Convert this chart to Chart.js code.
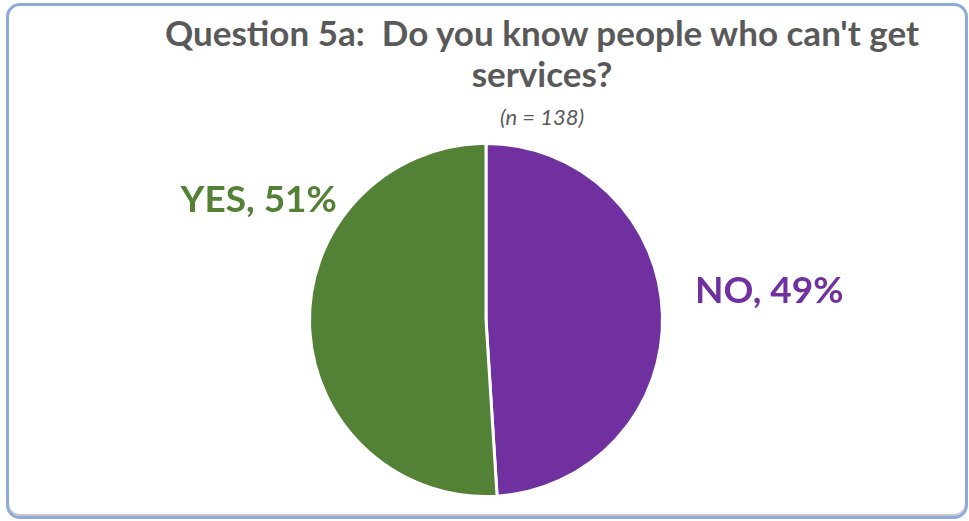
<!DOCTYPE html>
<html>
<head>
<meta charset="utf-8">
<script src="https://cdn.jsdelivr.net/npm/chart.js@4/dist/chart.umd.min.js"></script>
<style>
  html, body { margin: 0; padding: 0; background: #fff; }
  #wrap { position: relative; width: 969px; height: 521px; overflow: hidden; }
  #frame {
    position: absolute; left: 6px; top: 3px; width: 962px; height: 516px;
    box-sizing: border-box; border: 3px solid #8eaadb; border-radius: 14px;
    box-shadow: inset 0 -2px 1px #c4c4c4;
  }
  #title {
    position: absolute; left: 115px; width: 854px; top: 12px;
    text-align: center; font: bold 35px Lato, sans-serif; line-height: 41px;
    color: #595959;
  }
  #sub {
    position: absolute; left: 115px; width: 854px; top: 104px;
    text-align: center; font: italic 22px Lato, sans-serif; line-height: 26px;
    color: #595959;
  }
  canvas { position: absolute; left: 0; top: 0; }
</style>
</head>
<body>
<div id="wrap">
  <div id="frame"></div>
  <div id="title">Question 5a:&nbsp; Do you know people who can't get<br>services?</div>
  <div id="sub">(n = 138)</div>
  <canvas id="pie" width="969" height="521"></canvas>
</div>
<script>
  const answers = ['NO', 'YES'];
  const shares  = [49, 51];
  const colours = ['#7030a0', '#538135'];

  // where each slice label sits, relative to the pie centre in radii
  const labelSpots = [ {dx: 1.605, dy: -0.096}, {dx: -1.288, dy: -0.61} ];

  const sliceLabels = {
    id: 'sliceLabels',
    afterDatasetsDraw(chart){
      const ctx = chart.ctx;
      const arcs = chart.getDatasetMeta(0).data;
      ctx.save();
      ctx.font = 'bold 37px Lato, sans-serif';
      ctx.textAlign = 'center';
      ctx.textBaseline = 'alphabetic';
      arcs.forEach((arc, i) => {
        const r = arc.outerRadius;
        ctx.fillStyle = colours[i];
        ctx.fillText(`${answers[i]}, ${shares[i]}%`, arc.x + labelSpots[i].dx * r, arc.y + labelSpots[i].dy * r);
      });
      ctx.restore();
    }
  };

  new Chart(document.getElementById('pie'), {
    type: 'pie',
    data: {
      labels: answers,
      datasets: [{ data: shares, backgroundColor: colours, borderColor: '#ffffff', borderWidth: 3 }]
    },
    options: {
      responsive: false,
      animation: false,
      layout: { padding: { left: 308, right: 305, top: 142, bottom: 23 } },
      plugins: { legend: { display: false }, tooltip: { enabled: false } }
    },
    plugins: [sliceLabels]
  });
</script>
</body>
</html>
